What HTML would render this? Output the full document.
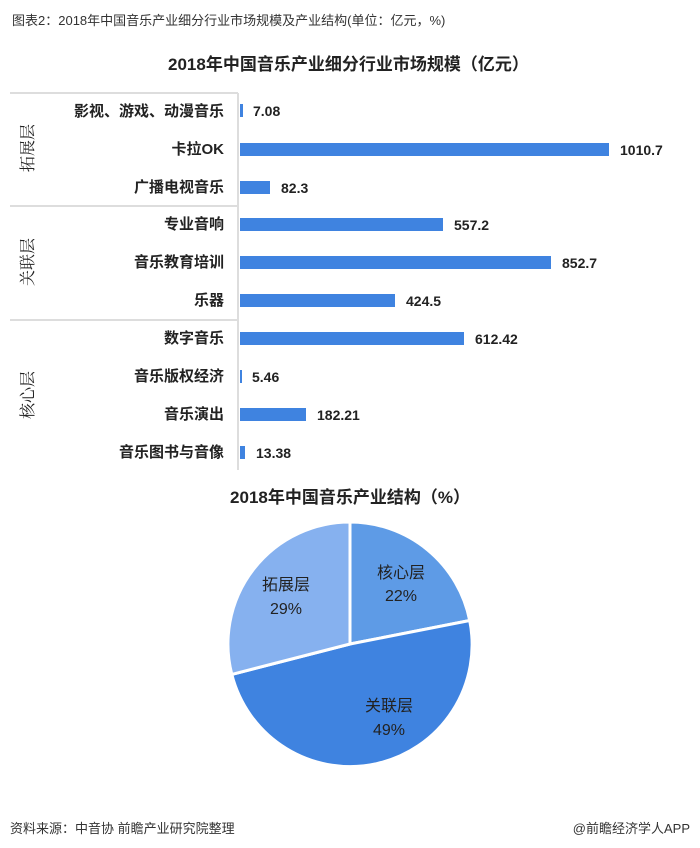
<!DOCTYPE html>
<html><head><meta charset="utf-8"><style>
body{margin:0;width:700px;height:848px;background:#fff;font-family:"Liberation Sans","Noto Sans CJK SC",sans-serif;position:relative;overflow:hidden}
.a{position:absolute;white-space:nowrap}
</style></head><body>
<div class="a" style="left:12px;top:10px;font-size:13px;color:#333">图表2：2018年中国音乐产业细分行业市场规模及产业结构(单位：亿元，%)</div>
<div class="a" style="left:168px;top:50px;font-size:17px;font-weight:bold;color:#222">2018年中国音乐产业细分行业市场规模（亿元）</div>
<svg class="a" style="left:0;top:0" width="700" height="848">
<g stroke="#ddd" stroke-width="2">
<line x1="10" y1="93" x2="238" y2="93"/><line x1="10" y1="206" x2="238" y2="206"/><line x1="10" y1="320" x2="238" y2="320"/>
<line x1="238" y1="93" x2="238" y2="470"/></g>
<g font-family="Liberation Serif,Noto Serif CJK SC,serif" font-size="16" fill="#222">
<text transform="translate(33,148) rotate(-90)" text-anchor="middle">拓展层</text>
<text transform="translate(33,262) rotate(-90)" text-anchor="middle">关联层</text>
<text transform="translate(33,395) rotate(-90)" text-anchor="middle">核心层</text></g>
<g font-size="15" fill="#222" text-anchor="end" font-weight="bold">
<text x="224" y="116">影视、游戏、动漫音乐</text><text x="224" y="154">卡拉OK</text><text x="224" y="192">广播电视音乐</text>
<text x="224" y="229">专业音响</text><text x="224" y="267">音乐教育培训</text><text x="224" y="305">乐器</text>
<text x="224" y="343">数字音乐</text><text x="224" y="381">音乐版权经济</text><text x="224" y="419">音乐演出</text><text x="224" y="457">音乐图书与音像</text></g>
<g fill="#3f83e0">
<rect x="240" y="104" width="3" height="13"/><rect x="240" y="143" width="369" height="13"/><rect x="240" y="181" width="30" height="13"/>
<rect x="240" y="218" width="203" height="13"/><rect x="240" y="256" width="311" height="13"/><rect x="240" y="294" width="155" height="13"/>
<rect x="240" y="332" width="224" height="13"/><rect x="240" y="370" width="2" height="13"/><rect x="240" y="408" width="66" height="13"/><rect x="240" y="446" width="5" height="13"/></g>
<g font-size="14" font-weight="bold" fill="#222">
<text x="253" y="116">7.08</text><text x="620" y="155">1010.7</text><text x="281" y="193">82.3</text>
<text x="454" y="230">557.2</text><text x="562" y="268">852.7</text><text x="406" y="306">424.5</text>
<text x="475" y="344">612.42</text><text x="252" y="382">5.46</text><text x="317" y="420">182.21</text><text x="256" y="458">13.38</text></g>
<text x="350" y="503" font-size="17" font-weight="bold" fill="#222" text-anchor="middle">2018年中国音乐产业结构（%）</text>
<g stroke="#fff" stroke-width="3">
<path d="M350,644 L350,522 A122,122 0 0 1 469.7,620.5 Z" fill="#5e9be6"/>
<path d="M350,644 L469.7,620.5 A122,122 0 0 1 231.8,674.4 Z" fill="#3f83e0"/>
<path d="M350,644 L231.8,674.4 A122,122 0 0 1 350,522 Z" fill="#86b1ef"/></g>
<g font-size="16" fill="#222" text-anchor="middle">
<text x="401" y="578">核心层</text><text x="401" y="601">22%</text>
<text x="286" y="590">拓展层</text><text x="286" y="614">29%</text>
<text x="389" y="711">关联层</text><text x="389" y="735">49%</text></g>
<g font-size="13" fill="#333"><text x="10" y="833">资料来源：中音协 前瞻产业研究院整理</text>
<text x="690" y="833" text-anchor="end">@前瞻经济学人APP</text></g>
</svg>
</body></html>
